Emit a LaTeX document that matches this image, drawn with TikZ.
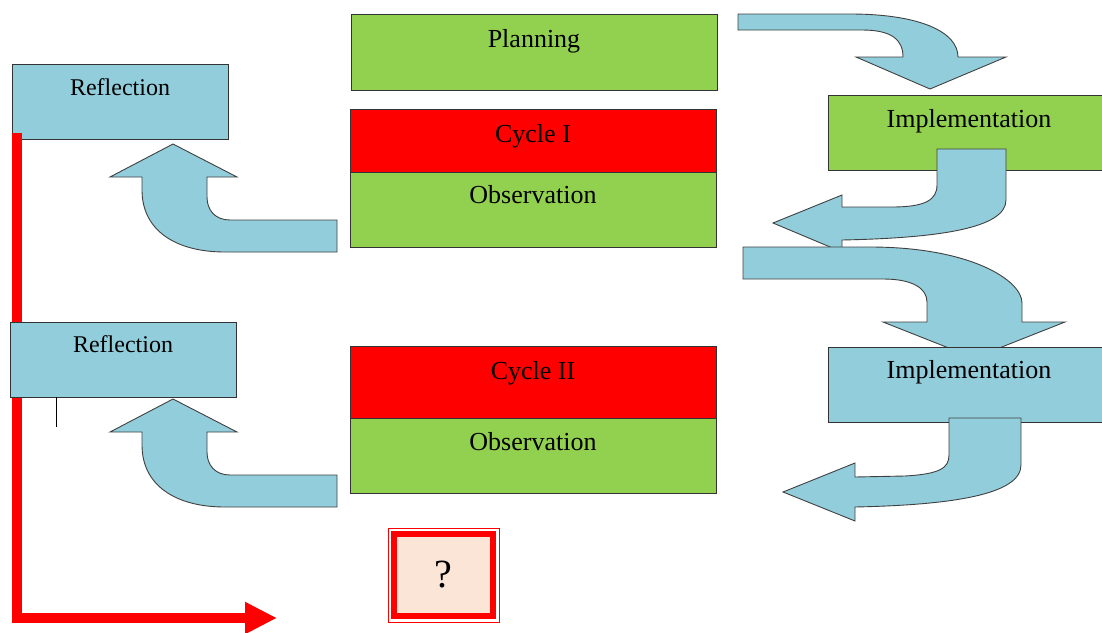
\documentclass[tikz,border=0pt]{standalone}
\usepackage{fontspec}
\setmainfont{Liberation Serif}
\usepackage{tikz}
\usetikzlibrary{arrows.meta}
\definecolor{phase0}{HTML}{92D050}
\definecolor{phase1}{HTML}{92CDDC}
\definecolor{cyclered}{HTML}{FF0000}
\definecolor{qfill}{HTML}{FBE5D6}

\begin{document}
\begin{tikzpicture}[x=1pt, y=-1pt,
  box/.style={draw=black!80, line width=0.9pt, inner sep=0pt, minimum height=75pt},
  txt/.style={anchor=base, inner sep=0pt, font=\fontsize{26}{30}\selectfont},
  turnarrow/.style={fill=phase1, draw=black!75, line width=0.9pt},
  trail/.style={line width=10pt, cyclered, -{Triangle[length=32pt, width=30pt]}},
]

\useasboundingbox (0,0) rectangle (1102,632);
\clip (0,0) rectangle (1102,632);

% left column
\node[box, fill=phase1, minimum width=216pt] (refl1) at (120,101.5) {};
\node[txt, font=\fontsize{24}{28}\selectfont] (refl1T) at ([yshift=-32pt]refl1.north) {Reflection};

\coordinate (trailEnd) at (277,618);
\draw[trail] ([xshift=5pt, yshift=6pt]refl1.south west) |- (trailEnd);

\node[box, fill=phase1, minimum width=226pt] (refl2) at (123,359.5) {};
\node[txt, font=\fontsize{24}{28}\selectfont] (refl2T) at ([yshift=-31pt]refl2.north) {Reflection};
\coordinate (tick) at (56,427);
\draw[line width=1pt] (refl2.south -| tick) -- (tick);

% middle column
\node[box, fill=phase0, minimum width=366pt, minimum height=76pt] (plan) at (534,52) {};
\node[txt] (planT) at ([yshift=-34pt]plan.north) {Planning};

\node[box, fill=cyclered, minimum width=366pt, minimum height=63pt] (cyc1) at (533,140.5) {};
\node[txt] (cyc1T) at ([yshift=-34pt]cyc1.north) {Cycle I};
\node[box, fill=phase0, minimum width=366pt] (obs1) at (533,209.5) {};
\node[txt] (obs1T) at ([yshift=-32pt]obs1.north) {Observation};

\node[box, fill=cyclered, minimum width=366pt, minimum height=72pt] (cyc2) at (533,382) {};
\node[txt] (cyc2T) at ([yshift=-34pt]cyc2.north) {Cycle II};
\node[box, fill=phase0, minimum width=366pt] (obs2) at (533,455.5) {};
\node[txt] (obs2T) at ([yshift=-33pt]obs2.north) {Observation};

% right column
\draw[turnarrow] (738,14) -- (850,14) .. controls (920,14) and (958,32) .. (958,57)
  -- (1006,57) -- (930,89) -- (856,57) -- (903,57)
  .. controls (903,40) and (892,30) .. (862,30) -- (738,30) -- cycle;

\node[box, fill=phase0, minimum width=282pt] (impl1) at (969,132.5) {};
\node[txt] (impl1T) at ([yshift=-33pt]impl1.north) {Implementation};

\draw[turnarrow] (1006,149) -- (1006,200) .. controls (1006,228) and (940,238) .. (842,240)
  -- (842,252) -- (773,223) -- (842,195) -- (842,207) -- (892,207)
  .. controls (925,207) and (937,200) .. (937,185) -- (937,149) -- cycle;

\draw[turnarrow] (743,247) -- (870,247) .. controls (970,247) and (1022,280) .. (1022,303)
  -- (1022,322) -- (1065,322) -- (974,358) -- (883,322) -- (927,322) -- (927,302)
  .. controls (927,288) and (912,279) .. (883,279) -- (743,279) -- cycle;

\node[box, fill=phase1, minimum width=282pt] (impl2) at (969,384.5) {};
\node[txt] (impl2T) at ([yshift=-32pt]impl2.north) {Implementation};

\draw[turnarrow] (1021,418) -- (1021,465) .. controls (1021,495) and (950,505) .. (855,507)
  -- (855,521) -- (783,492) -- (855,463) -- (855,477) -- (905,476)
  .. controls (940,474) and (949,468) .. (949,455) -- (949,418) -- cycle;

% back to reflection
\draw[turnarrow] (337,220) -- (230,220) .. controls (215,220) and (207,210) .. (207,197)
  -- (207,177) -- (237,177) -- (173,144) -- (110,177) -- (142,177) -- (142,190)
  .. controls (142,230) and (175,252) .. (225,252) -- (337,252) -- cycle;

\draw[turnarrow] (337,475) -- (230,475) .. controls (215,475) and (207,465) .. (207,452)
  -- (207,432) -- (237,432) -- (173,399) -- (110,432) -- (142,432) -- (142,445)
  .. controls (142,485) and (175,507) .. (225,507) -- (337,507) -- cycle;

% question box
\node[draw=cyclered, line width=6pt, fill=qfill, minimum width=99pt, minimum height=82pt,
  inner sep=0pt, font=\fontsize{40}{44}\selectfont] (q) at (443.5,575) {?};
\draw[cyclered, line width=1pt] ([xshift=-3pt, yshift=3pt]q.north west)
  rectangle ([xshift=3pt, yshift=-3pt]q.south east);

\end{tikzpicture}
\end{document}
